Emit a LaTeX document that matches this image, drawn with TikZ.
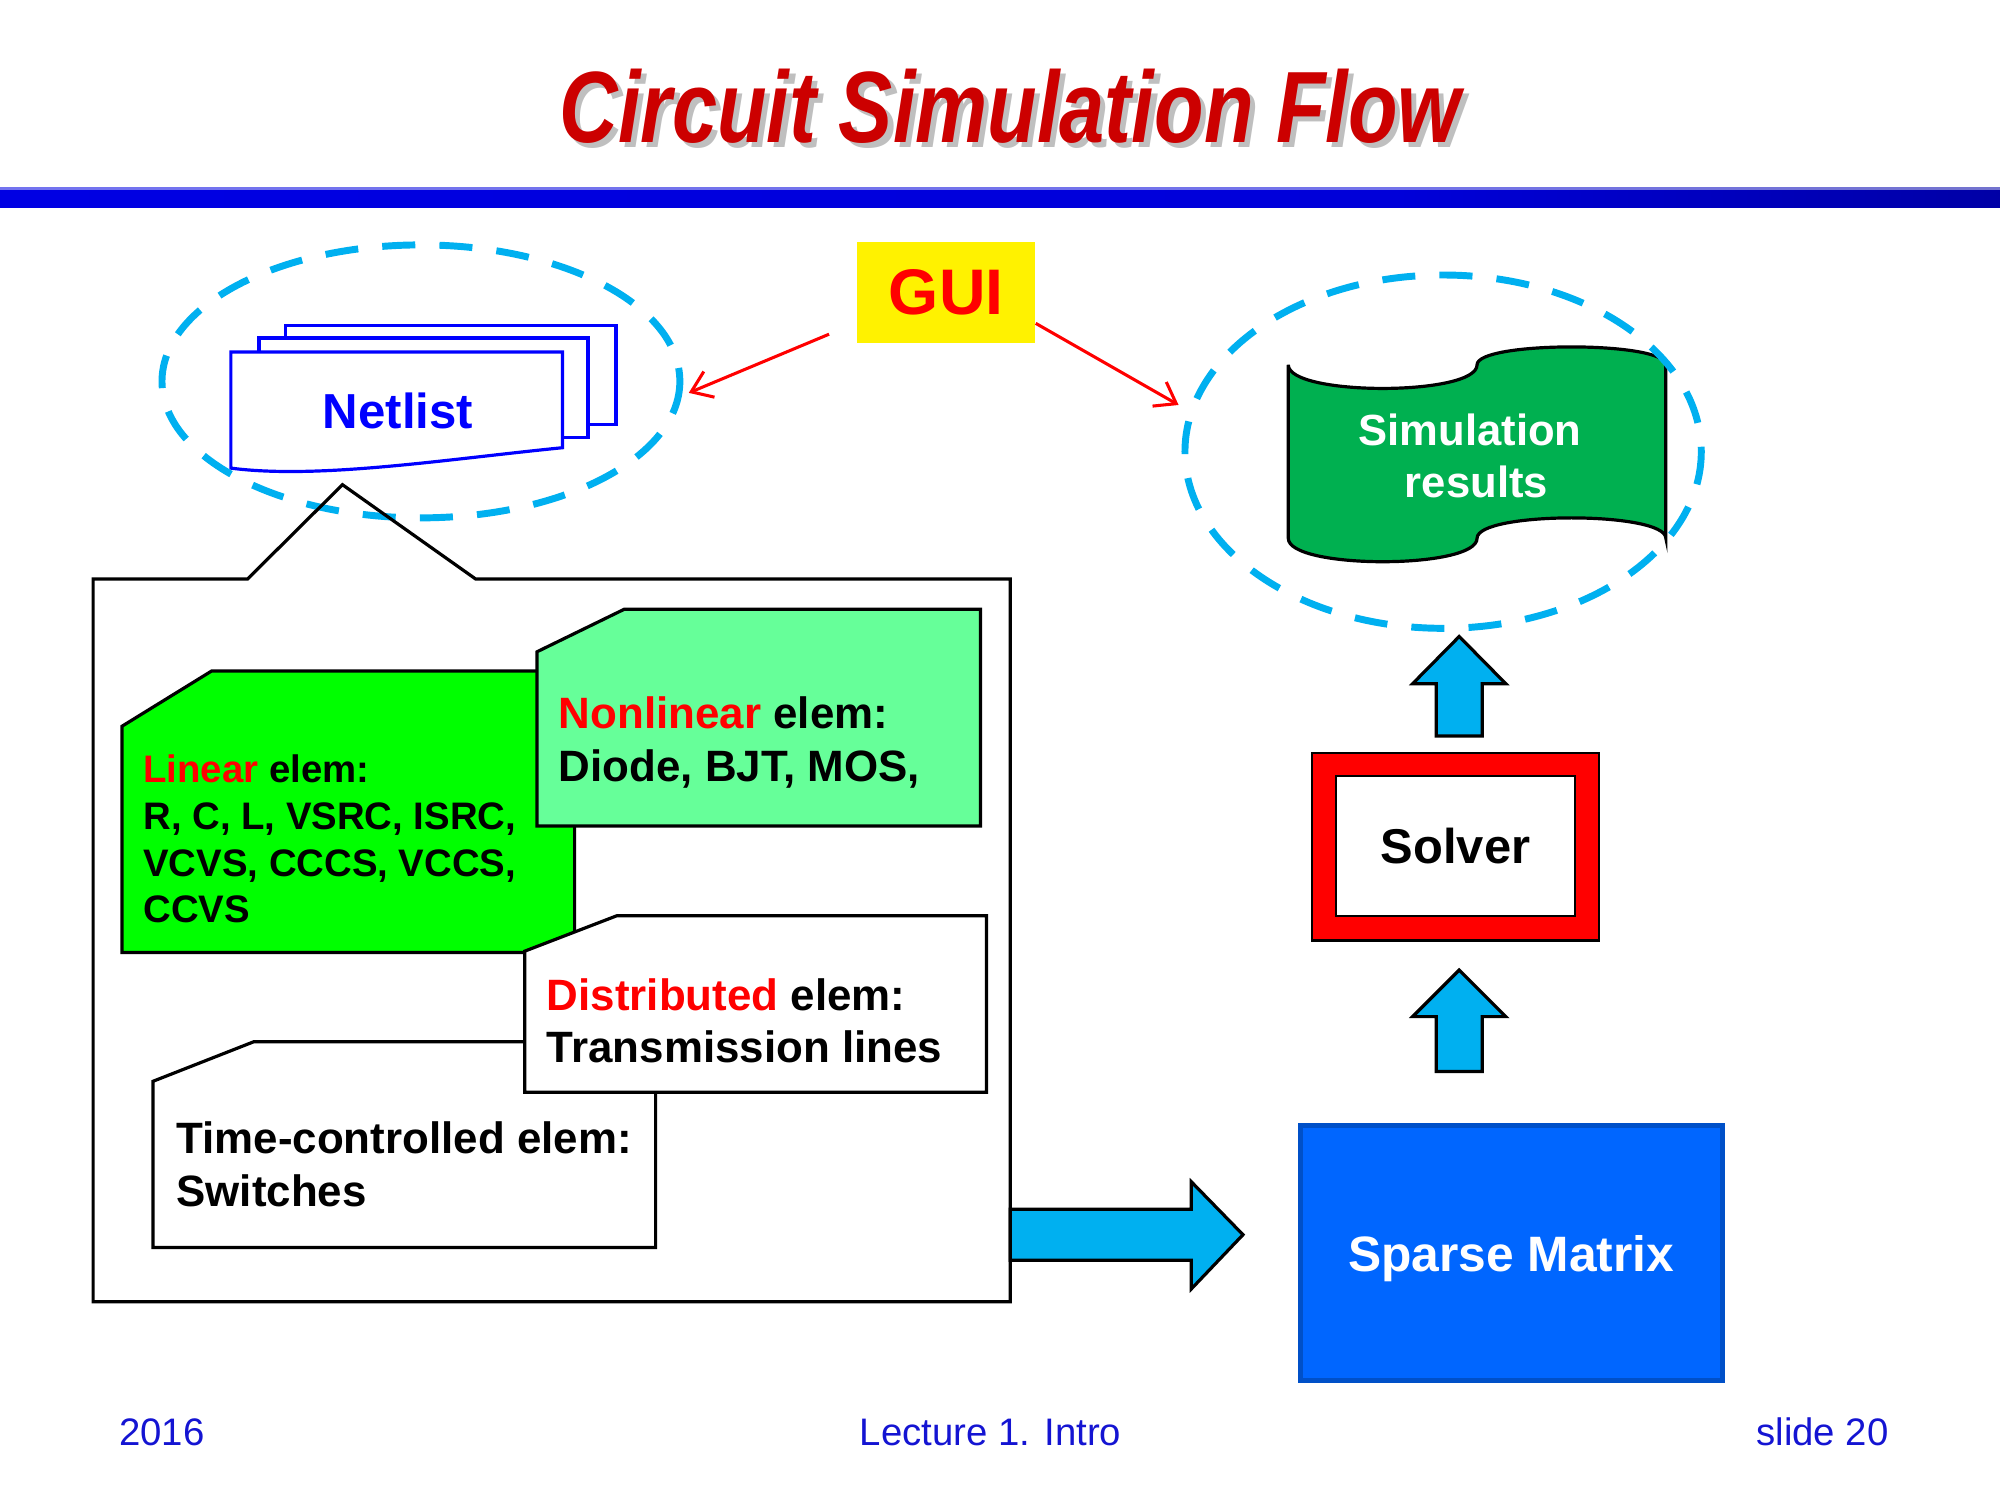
\documentclass[tikz,border=0pt]{standalone}
\usepackage{fontspec}
\setmainfont{Liberation Sans}
\usetikzlibrary{arrows.meta}
\definecolor{titlered}{RGB}{204,0,0}
\definecolor{ringblue}{RGB}{0,176,240}
\definecolor{arrowblue}{RGB}{0,176,240}
\definecolor{lingreen}{RGB}{0,255,0}
\definecolor{nonlingreen}{RGB}{102,255,153}
\definecolor{resgreen}{RGB}{0,176,80}
\definecolor{matblue}{RGB}{0,102,255}
\definecolor{matedge}{RGB}{0,80,200}
\definecolor{footblue}{RGB}{20,20,210}
\definecolor{netblue}{RGB}{0,0,255}
\pgfdeclarehorizontalshading{barshade}{100bp}{rgb(0bp)=(0,0,0.92); rgb(60bp)=(0,0,0.85); rgb(100bp)=(0,0,0.32)}
\newcommand{\pxu}{0.4592pt}

\begin{document}
\begin{tikzpicture}[x=0.4592pt, y=-0.4592pt,
  blackline/.style={draw=black, line width=1.15pt},
  dashring/.style={draw=ringblue, line width=2.5pt, dash pattern=on 11.9pt off 8.7pt},
  netdoc/.style={draw=netblue, line width=1.15pt, fill=white},
  elemtxt/.style={anchor=base west, inner sep=0pt, font=\bfseries\fontsize{15.8}{19}\selectfont},
  lintxt/.style={elemtxt, font=\bfseries\fontsize{13.8}{16}\selectfont},
  guiarrow/.style={draw=red, line width=1.1pt, -{Straight Barb[length=7pt,width=10pt]}},
  blockarrow/.style={blackline, fill=arrowblue},
  foot/.style={inner sep=0pt, text=footblue, font=\fontsize{13.8}{16}\selectfont}]
\useasboundingbox (0,0) rectangle (1568,1176);

% title and bar
\node[anchor=base, inner sep=0pt, text=black!25, font=\bfseries\itshape\fontsize{36.5}{40}\selectfont] (titleshadow) at (796,116) {\scalebox{0.8}[1]{Circuit Simulation Flow}};
\node[anchor=base, inner sep=0pt, text=titlered, font=\bfseries\itshape\fontsize{36.5}{40}\selectfont] (title) at (792,112) {\scalebox{0.8}[1]{Circuit Simulation Flow}};
\shade[shading=barshade] (0,147) rectangle (1568,163);
\fill[white, opacity=0.45] (0,146) rectangle (1568,149);

% netlist
\draw[netdoc] (224,265) -- (224,255) -- (483,255) -- (483,333) -- (461,333);
\draw[netdoc] (203,276) -- (203,265) -- (461,265) -- (461,343) -- (441,343);
\draw[netdoc] (181,276) -- (441,276) -- (441,351) .. controls (350,360) and (250,376) .. (181,367) -- cycle;
\node[anchor=base, inner sep=0pt, text=netblue, font=\bfseries\fontsize{17.7}{20}\selectfont] (netlist) at (312,336) {Netlist};
\draw[dashring] (330,299) ellipse [x radius=203, y radius=107];

% GUI
\node[fill=yellow, minimum width=139.5*\pxu, minimum height=79.5*\pxu, inner sep=0pt, text=red, font=\bfseries\fontsize{23.2}{26}\selectfont] (gui) at (741.8,229.3) {GUI};
\coordinate (guiout1) at (650,262);
\coordinate (netin) at (540,308);
\coordinate (guiout2) at (812,253.5);
\coordinate (resin) at (924,317.5);
\draw[guiarrow] (guiout1) -- (netin);
\draw[guiarrow] (guiout2) -- (resin);

% simulation results
\draw[blackline, fill=resgreen] (1010,286) .. controls (1010,310.7) and (1158,310.7) .. (1158,286)
  .. controls (1158,267.3) and (1306,267.3) .. (1306,286) -- (1306,422)
  .. controls (1306,400.7) and (1158,400.7) .. (1158,422)
  .. controls (1158,446.5) and (1010,446.5) .. (1010,422) -- cycle;
\node[anchor=base, inner sep=0pt, text=white, font=\bfseries\fontsize{15.7}{19}\selectfont] (res1) at (1152.5,349) {Simulation};
\node[anchor=base, inner sep=0pt, text=white, font=\bfseries\fontsize{15.7}{19}\selectfont] (res2) at (1157.5,390) {results};
\draw[dashring] (1131.4,354.1) ellipse [x radius=202.4, y radius=138.5];

% netlist content
\draw[blackline] (73,454) -- (194,454) -- (268.5,380) -- (373,454) -- (792,454) -- (792,1020.5) -- (73,1020.5) -- cycle;
\draw[blackline, fill=lingreen] (95.6,569.4) -- (166,526) -- (450.5,526) -- (450.5,746.8) -- (95.6,746.8) -- cycle;
\draw[blackline, fill=nonlingreen] (421,511) -- (489.5,477.6) -- (768.7,477.6) -- (768.7,647.5) -- (421,647.5) -- cycle;
\draw[blackline, fill=white] (120,847.7) -- (199,816.7) -- (514,816.7) -- (514,978) -- (120,978) -- cycle;
\draw[blackline, fill=white] (411.4,745.7) -- (483.4,718) -- (773.4,718) -- (773.4,856.3) -- (411.4,856.3) -- cycle;

\node[lintxt] (lin1) at (112,613.7) {\textcolor{red}{Linear} elem:};
\node[lintxt] (lin2) at (112,650.4) {R, C, L, VSRC, ISRC,};
\node[lintxt] (lin3) at (112,687.5) {VCVS, CCCS, VCCS,};
\node[lintxt] (lin4) at (112,723.5) {CCVS};
\node[elemtxt] (non1) at (437.8,571.2) {\textcolor{red}{Nonlinear} elem:};
\node[elemtxt] (non2) at (437.8,612.6) {Diode, BJT, MOS,};
\node[elemtxt] (dis1) at (428.4,791.9) {\textcolor{red}{Distributed} elem:};
\node[elemtxt] (dis2) at (428.4,833.2) {Transmission lines};
\node[elemtxt] (tim1) at (137.9,904.2) {Time-controlled elem:};
\node[elemtxt] (tim2) at (137.9,945.5) {Switches};

% right column
\draw[blockarrow] (1126,577) -- (1126,536) -- (1107.5,536) -- (1144,499) -- (1180.5,536) -- (1162,536) -- (1162,577) -- cycle;
\node[draw=black, fill=red, line width=0.9pt, minimum width=225*\pxu, minimum height=147*\pxu, inner sep=0pt] (solverframe) at (1141.2,663.8) {};
\node[draw=black, fill=white, line width=0.9pt, minimum width=187*\pxu, minimum height=110*\pxu, inner sep=0pt, font=\bfseries\fontsize{17.6}{20}\selectfont] (solver) at (1141.1,663.3) {Solver};
\draw[blockarrow] (1126,840) -- (1126,797) -- (1107.5,797) -- (1144,760.5) -- (1180.5,797) -- (1162,797) -- (1162,840) -- cycle;

\node[fill=matblue, draw=matedge, line width=1.8pt, minimum width=330.5*\pxu, minimum height=199.3*\pxu, inner sep=0pt] (sparse) at (1184.8,982.4) {};
\node[anchor=base, inner sep=0pt, text=white, font=\bfseries\fontsize{17.9}{21}\selectfont] (sparsetxt) at (1184.7,997) {Sparse Matrix};
\draw[blockarrow] (792,948) -- (934,948) -- (934,926.5) -- (974.5,968) -- (934,1010.5) -- (934,988) -- (792,988) -- cycle;

% footer
\node[foot, anchor=base west] (year) at (93,1133) {2016};
\node[foot, anchor=base] (lecture) at (776.5,1133) {Lecture 1. Intro};
\node[foot, anchor=base east] (slideno) at (1481,1133) {slide 20};
\end{tikzpicture}
\end{document}
